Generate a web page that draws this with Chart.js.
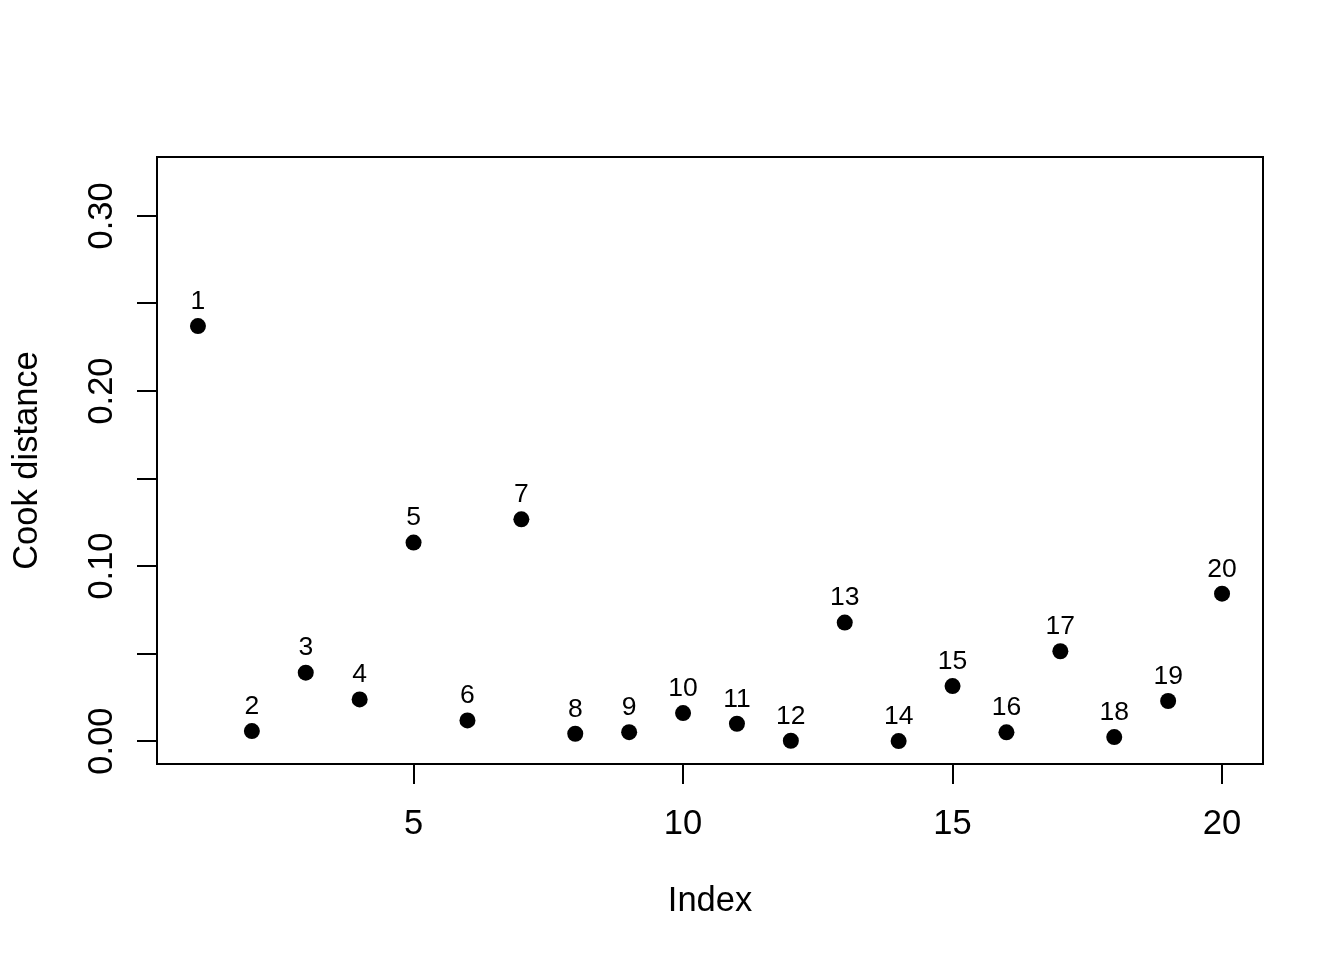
<!DOCTYPE html>
<html>
<head>
<meta charset="utf-8">
<script src="https://cdn.jsdelivr.net/npm/chart.js@4/dist/chart.umd.min.js"></script>
<style>
  html, body { margin: 0; padding: 0; background: #fff; }
  canvas { display: block; }
</style>
</head>
<body>
<canvas id="cookChart" width="1344" height="960"></canvas>
<script>
const obsIndex = [1, 2, 3, 4, 5, 6, 7, 8, 9, 10, 11, 12, 13, 14, 15, 16, 17, 18, 19, 20];
const cookDist = [0.2371, 0.0057, 0.0391, 0.0238, 0.1134, 0.0118, 0.1267, 0.0042, 0.0051, 0.0160,
                  0.0099, 0.0002, 0.0677, 0.0000, 0.0314, 0.0050, 0.0513, 0.0023, 0.0229, 0.0842];
const pointLabels = obsIndex.map(String);

const xTickValues = [5, 10, 15, 20];
const xTickLabels = ["5", "10", "15", "20"];
const yTickValues = [0, 0.05, 0.1, 0.15, 0.2, 0.25, 0.3];
const yTickLabels = ["0.00", "", "0.10", "", "0.20", "", "0.30"];

const xTitle = "Index";
const yTitle = "Cook distance";

const FONT = '"Liberation Sans", Arial, Helvetica, sans-serif';

// box, text labels (R style)
const rPlotDecor = {
  id: "rPlotDecor",
  afterDraw(chart) {
    const ctx = chart.ctx;
    const area = chart.chartArea;
    const xs = chart.scales.x;
    const ys = chart.scales.y;
    ctx.save();
    ctx.strokeStyle = "#000";
    ctx.lineWidth = 2;
    ctx.strokeRect(area.left, area.top, area.right - area.left, area.bottom - area.top);

    ctx.fillStyle = "#000";
    ctx.font = "34.5px " + FONT;

    // x tick labels
    ctx.textAlign = "center";
    ctx.textBaseline = "alphabetic";
    xTickValues.forEach((v, i) => {
      ctx.fillText(xTickLabels[i], xs.getPixelForValue(v), 834);
    });

    // x title
    ctx.fillText(xTitle, (area.left + area.right) / 2, 911);

    // y tick labels, rotated
    yTickValues.forEach((v, i) => {
      if (!yTickLabels[i]) return;
      ctx.save();
      ctx.translate(112, ys.getPixelForValue(v));
      ctx.rotate(-Math.PI / 2);
      ctx.fillText(yTickLabels[i], 0, 0);
      ctx.restore();
    });

    // y title
    ctx.save();
    ctx.translate(37, (area.top + area.bottom) / 2);
    ctx.rotate(-Math.PI / 2);
    ctx.fillText(yTitle, 0, 0);
    ctx.restore();

    // point labels above each point
    ctx.font = "26.5px " + FONT;
    ctx.textBaseline = "middle";
    const meta = chart.getDatasetMeta(0);
    meta.data.forEach((pt, i) => {
      ctx.fillText(pointLabels[i], pt.x, pt.y - 24.5);
    });
    ctx.restore();
  }
};

new Chart(document.getElementById("cookChart"), {
  type: "scatter",
  data: {
    datasets: [{
      label: yTitle,
      data: obsIndex.map((x, i) => ({ x: x, y: cookDist[i] })),
      backgroundColor: "#000",
      borderWidth: 0,
      pointRadius: 8,
      pointHoverRadius: 8
    }]
  },
  options: {
    responsive: false,
    animation: false,
    devicePixelRatio: 1,
    events: [],
    layout: { padding: { top: 157, right: 81, left: 0, bottom: 0 } },
    plugins: {
      legend: { display: false },
      tooltip: { enabled: false }
    },
    scales: {
      x: {
        type: "linear",
        position: "bottom",
        min: 0.24,
        max: 20.76,
        afterBuildTicks: (s) => { s.ticks = xTickValues.map((v) => ({ value: v })); },
        afterFit: (s) => { s.height = 196; },
        grid: { drawOnChartArea: false, drawTicks: true, tickLength: 20, color: "#000", lineWidth: 2 },
        border: { display: false },
        ticks: { display: false }
      },
      y: {
        type: "linear",
        position: "left",
        min: -0.0131,
        max: 0.3337,
        afterBuildTicks: (s) => { s.ticks = yTickValues.map((v) => ({ value: v })); },
        afterFit: (s) => { s.width = 157; },
        grid: { drawOnChartArea: false, drawTicks: true, tickLength: 20, color: "#000", lineWidth: 2 },
        border: { display: false },
        ticks: { display: false }
      }
    }
  },
  plugins: [rPlotDecor]
});
</script>
</body>
</html>
